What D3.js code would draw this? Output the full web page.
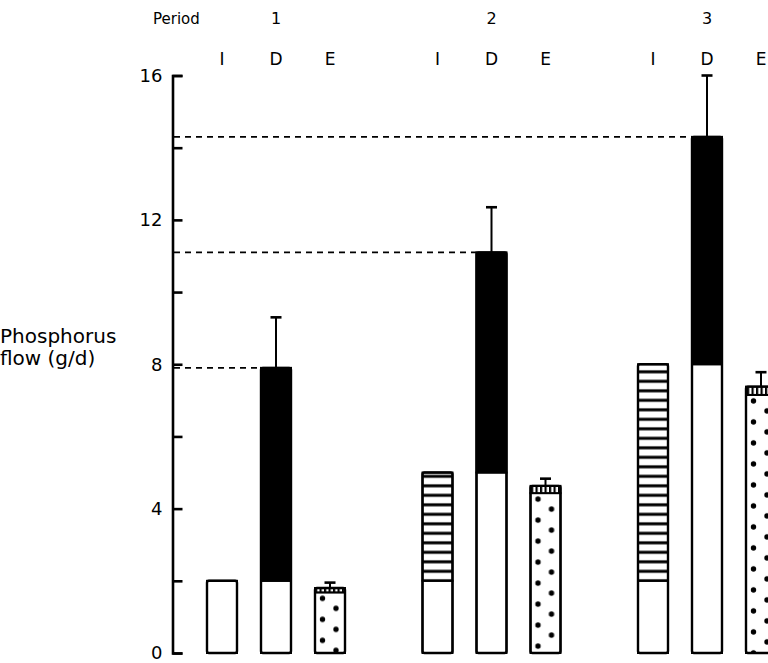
<!DOCTYPE html>
<html>
<head>
<meta charset="utf-8">
<script src="https://cdn.jsdelivr.net/npm/d3@7"></script>
<style>
	body { margin: 0; background: #fff; }
	svg text { font-family: "DejaVu Sans", Verdana, sans-serif; fill: #000; }
</style>
</head>
<body>
<script>
// values (g/d)
var periods = [1, 2, 3];
var flows = ["I", "D", "E"];
var intakeBase = [2, 2, 2];
var intakeTotal = [2, 5, 8];
var duodBase = [2, 5, 8];
var duodTotal = [7.9, 11.1, 14.3];
var duodErr = [1.4, 1.25, 1.7];
var faecal = [1.68, 4.43, 7.15];
var excTotal = [1.8, 4.63, 7.38];
var excErr = [0.15, 0.2, 0.4];
var yTicks = [0, 2, 4, 6, 8, 10, 12, 14, 16];
var yLabelled = [0, 4, 8, 12, 16];

var width = 768;
var height = 663;
var barW = 30;

var svg = d3
	.select("body")
	.append("svg")
	.attr("width", width)
	.attr("height", height);

var x0 = d3.scaleBand().domain(periods).range([195, 195 + 3 * 215.5]);
var xi = d3.scaleBand().domain(flows).range([0, 162]);
var y = d3.scaleLinear().domain([0, 16]).range([653, 75.5]);

function barX(p, k) {
	return x0(p) + xi(k) + (xi.bandwidth() - barW) / 2;
}
function barC(p, k) {
	return barX(p, k) + barW / 2;
}

var defs = svg.append("defs");

// horizontal stripes for the intake bars
var hp = defs
	.append("pattern")
	.attr("id", "hstripe")
	.attr("patternUnits", "userSpaceOnUse")
	.attr("width", 10)
	.attr("height", 9.5)
	.attr("y", y(2));
hp.append("rect").attr("width", 10).attr("height", 9.5).attr("fill", "#fff");
hp.append("rect").attr("y", -1.5).attr("width", 10).attr("height", 3).attr("fill", "#000");
hp.append("rect").attr("y", 8).attr("width", 10).attr("height", 3).attr("fill", "#000");

// vertical stripes for the small cap on the excretion bars
var vp = defs
	.append("pattern")
	.attr("id", "vstripe")
	.attr("patternUnits", "userSpaceOnUse")
	.attr("width", 4.5)
	.attr("height", 10);
vp.append("rect").attr("width", 4.5).attr("height", 10).attr("fill", "#fff");
vp.append("rect").attr("width", 2.2).attr("height", 10).attr("fill", "#000");

// dots, one pattern per bar so they line up with its left edge
periods.forEach((p, i) => {
	var dp = defs
		.append("pattern")
		.attr("id", "dots" + i)
		.attr("patternUnits", "userSpaceOnUse")
		.attr("x", barX(p, "E"))
		.attr("y", y(faecal[i]))
		.attr("width", barW)
		.attr("height", 21);
	dp.append("rect").attr("width", barW).attr("height", 21).attr("fill", "#fff");
	dp.append("circle").attr("cx", 7.5).attr("cy", 6).attr("r", 2.7).attr("fill", "#000");
	dp.append("circle").attr("cx", 21).attr("cy", 16).attr("r", 2.7).attr("fill", "#000");
});

// y axis, ticks pointing into the plot
var axis = svg
	.append("g")
	.attr("transform", "translate(172.5,0)")
	.call(
		d3
			.axisLeft(y)
			.tickValues(yTicks)
			.tickSizeInner(-10)
			.tickSizeOuter(-10)
			.tickPadding(10)
			.tickFormat((d) => (yLabelled.indexOf(d) >= 0 ? d : ""))
	);
axis.select(".domain").attr("stroke-width", 2.6).attr("fill", "none");
axis.selectAll(".tick line").attr("stroke-width", 2.6);
axis
	.selectAll(".tick text")
	.style("font-size", "18px")
	.style("font-family", '"DejaVu Sans", Verdana, sans-serif')
	.attr("fill", "#000");

// dashed guides from the axis to the top of each D bar
svg
	.selectAll(".guide")
	.data(periods)
	.join("line")
	.attr("class", "guide")
	.attr("x1", 174)
	.attr("x2", (d) => barX(d, "D"))
	.attr("y1", (d, i) => y(duodTotal[i]))
	.attr("y2", (d, i) => y(duodTotal[i]))
	.attr("stroke", "#000")
	.attr("stroke-width", 1.6)
	.attr("stroke-dasharray", "6,5");

function segment(x, v0, v1, fill) {
	svg
		.append("rect")
		.attr("x", x)
		.attr("y", y(v1))
		.attr("width", barW)
		.attr("height", y(v0) - y(v1))
		.attr("fill", fill)
		.attr("stroke", "#000")
		.attr("stroke-width", 2);
}

function outline(x, v) {
	svg
		.append("rect")
		.attr("x", x)
		.attr("y", y(v))
		.attr("width", barW)
		.attr("height", y(0) - y(v))
		.attr("rx", 2)
		.attr("fill", "none")
		.attr("stroke", "#000")
		.attr("stroke-width", 2.4);
}

function errorBar(cx, v, e) {
	svg
		.append("line")
		.attr("x1", cx)
		.attr("x2", cx)
		.attr("y1", y(v))
		.attr("y2", y(v + e))
		.attr("stroke", "#000")
		.attr("stroke-width", 2);
	svg
		.append("line")
		.attr("x1", cx - 5.5)
		.attr("x2", cx + 5.5)
		.attr("y1", y(v + e))
		.attr("y2", y(v + e))
		.attr("stroke", "#000")
		.attr("stroke-width", 2.6);
}

periods.forEach((p, i) => {
	// intake
	var xI = barX(p, "I");
	segment(xI, 0, intakeBase[i], "#fff");
	if (intakeTotal[i] > intakeBase[i]) {
		segment(xI, intakeBase[i], intakeTotal[i], "url(#hstripe)");
	}
	outline(xI, intakeTotal[i]);

	// duodenal flow
	var xD = barX(p, "D");
	segment(xD, 0, duodBase[i], "#fff");
	segment(xD, duodBase[i], duodTotal[i], "#000");
	outline(xD, duodTotal[i]);
	errorBar(barC(p, "D"), duodTotal[i], duodErr[i]);

	// excretion
	var xE = barX(p, "E");
	segment(xE, 0, faecal[i], "url(#dots" + i + ")");
	segment(xE, faecal[i], excTotal[i], "url(#vstripe)");
	outline(xE, excTotal[i]);
	errorBar(barC(p, "E"), excTotal[i], excErr[i]);
});

// header labels
svg
	.append("text")
	.attr("x", 153)
	.attr("y", 24)
	.style("font-size", "15px")
	.text("Period");

svg
	.selectAll(".pnum")
	.data(periods)
	.join("text")
	.attr("class", "pnum")
	.attr("x", (d) => barC(d, "D"))
	.attr("y", 24)
	.attr("text-anchor", "middle")
	.style("font-size", "16px")
	.text((d) => d);

periods.forEach((p) => {
	svg
		.selectAll(".flow" + p)
		.data(flows)
		.join("text")
		.attr("class", "flow" + p)
		.attr("x", (d) => barC(p, d))
		.attr("y", 65)
		.attr("text-anchor", "middle")
		.style("font-size", "17px")
		.text((d) => d);
});

// y axis title
svg
	.append("text")
	.attr("x", 0)
	.attr("y", 343)
	.style("font-size", "20px")
	.text("Phosphorus");
svg
	.append("text")
	.attr("x", 0)
	.attr("y", 365)
	.style("font-size", "20px")
	.text("flow (g/d)");
</script>
</body>
</html>
